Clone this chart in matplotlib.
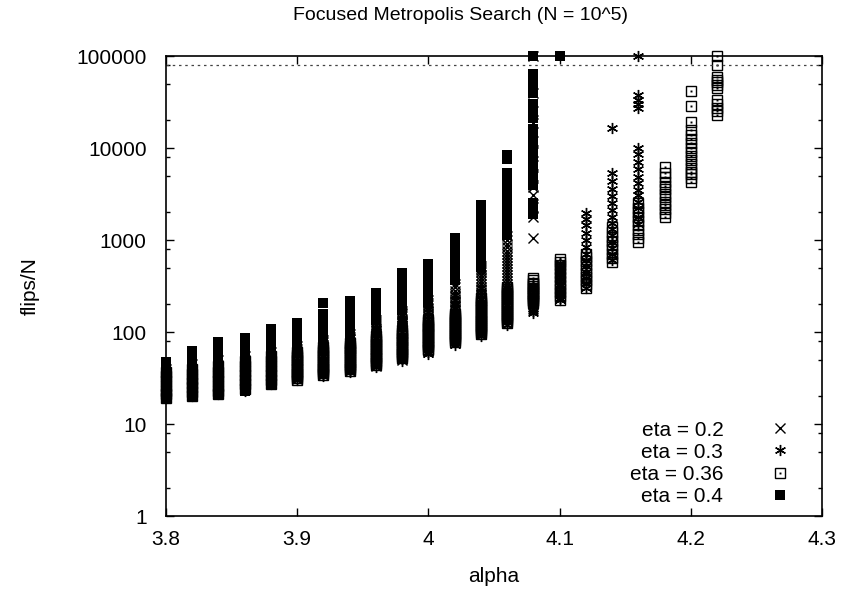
import matplotlib
matplotlib.use("Agg")
import matplotlib.pyplot as plt
from matplotlib import font_manager
from matplotlib.ticker import FixedLocator, NullFormatter

# alpha values of the runs (one column of points per alpha)
alphas = [3.80, 3.82, 3.84, 3.86, 3.88, 3.90, 3.92, 3.94, 3.96, 3.98, 4.00,
          4.02, 4.04, 4.06, 4.08, 4.10, 4.12, 4.14, 4.16, 4.18, 4.20, 4.22]

# flips/N of the individual runs, one list per alpha
eta02 = [
    [20, 22, 25, 28, 31, 35, 40],
    [21, 24, 27, 30, 34, 39, 45],
    [22, 25, 28, 32, 36, 42, 50],
    [25, 28, 32, 36, 41, 47, 55],
    [28, 31, 35, 40, 46, 52, 60],
    [31, 33, 35, 38, 40, 43, 45, 48, 52, 56, 60, 65, 70],
    [34, 36, 38, 41, 43, 46, 49, 52, 56, 60, 64, 68, 73, 78, 82],
    [38, 40, 43, 46, 49, 52, 56, 60, 64, 68, 73, 78, 83, 89, 95],
    [43, 46, 49, 52, 56, 60, 64, 68, 73, 78, 84, 90, 96, 103, 110, 116, 122, 128, 135],
    [50, 53, 57, 61, 65, 69, 74, 79, 85, 91, 97, 103, 110, 117, 125, 132, 140, 148, 155, 162, 170],
    [60, 64, 68, 73, 78, 83, 89, 94, 100, 107, 115, 122, 130, 140, 150, 160, 170, 182, 195, 207, 220],
    [75, 80, 85, 91, 97, 103, 110, 117, 125, 135, 145, 155, 165, 177, 190, 202, 215, 230,
     245, 262, 280, 305, 330],
    [100, 107, 115, 122, 130, 140, 150, 162, 175, 187, 200, 217, 235, 252, 270, 290, 310,
     335, 360, 390, 420, 445, 470, 495, 520],
    [150, 162, 175, 187, 200, 217, 235, 252, 270, 290, 310, 335, 360, 390, 420, 450, 480,
     520, 560, 605, 650, 700, 760, 830, 900, 1000, 1100],
    [1060, 1770, 2300, 3060, 3770, 5000, 6600, 9000, 12000, 18700, 25000, 40000, 100000],
    [], [], [], [], [], [], [],
]

eta03 = [
    [19, 21, 24, 27, 30, 34, 38],
    [20, 22, 25, 28, 32, 37, 42],
    [21, 24, 27, 31, 35, 40, 46],
    [23, 26, 30, 34, 39, 45, 52],
    [27, 30, 34, 39, 44, 50, 58],
    [30, 32, 34, 36, 38, 40, 43, 46, 49, 52, 56, 60, 66],
    [33, 35, 37, 39, 42, 45, 48, 51, 55, 59, 63, 68, 75],
    [37, 39, 42, 44, 47, 50, 54, 58, 62, 66, 72, 79, 88],
    [42, 44, 47, 50, 53, 56, 60, 64, 69, 74, 80, 87, 95, 102, 110],
    [48, 51, 54, 57, 61, 65, 70, 75, 80, 86, 92, 99, 107, 115, 123, 131, 140],
    [58, 61, 65, 69, 74, 79, 84, 90, 96, 103, 110, 118, 126, 138, 150, 165, 180],
    [72, 77, 82, 87, 93, 99, 106, 113, 121, 130, 140, 152, 165, 182, 200, 225, 250],
    [90, 96, 102, 109, 116, 124, 132, 141, 150, 162, 175, 190, 205, 227, 250, 275, 300],
    [120, 127, 135, 142, 150, 160, 170, 182, 195, 210, 225, 237, 250, 265, 280],
    [160, 170, 180, 192, 205, 217, 230, 245, 260, 275, 290, 305, 320],
    [225, 237, 250, 265, 280, 297, 315, 335, 355, 377, 400, 425, 450, 475, 500, 530, 560],
    [300, 340, 390, 450, 520, 600, 700, 840, 1000, 1200, 1450, 1700, 1960],
    [600, 700, 820, 960, 1130, 1330, 1530, 1800, 2100, 2500, 3000, 3600, 4400, 5350, 16500],
    [1500, 1800, 2200, 2600, 3080, 3500, 4200, 4840, 5900, 7000, 8500, 10000,
     27000, 30000, 33000, 37700, 100000],
    [], [], [],
]

eta036 = [
    [19, 21, 23, 26, 29, 33, 37],
    [20, 22, 25, 28, 31, 35, 40],
    [21, 23, 26, 29, 33, 37, 43],
    [24, 27, 30, 34, 38, 43, 49],
    [27, 30, 34, 38, 43, 48, 55],
    [30, 32, 33, 35, 37, 40, 42, 44, 47, 50, 53, 56, 60],
    [34, 36, 38, 40, 42, 44, 47, 50, 53, 56, 60, 64, 68],
    [38, 40, 42, 44, 47, 50, 53, 56, 60, 63, 67, 71, 76],
    [44, 46, 49, 52, 55, 58, 62, 66, 70, 74, 79, 84, 90],
    [52, 55, 58, 61, 65, 69, 73, 77, 82, 87, 92, 98, 104],
    [63, 66, 70, 74, 78, 82, 87, 92, 97, 102, 108, 114, 120, 127, 135],
    [78, 82, 86, 90, 95, 100, 105, 110, 116, 122, 128, 135, 142, 150, 158],
    [95, 100, 105, 110, 116, 122, 128, 135, 142, 150, 158, 167, 176, 186, 196, 207, 218, 234],
    [125, 131, 138, 145, 152, 160, 168, 177, 186, 196, 206, 217, 228, 240, 252, 266, 280,
     294, 308],
    [207, 216, 225, 235, 245, 256, 267, 278, 290, 303, 316, 330, 345, 365, 386],
    [223, 245, 270, 297, 327, 360, 397, 437, 481, 530, 580, 621],
    [300, 330, 365, 400, 440, 485, 535, 590, 650, 700],
    [577, 640, 710, 790, 880, 980, 1090, 1210, 1390],
    [950, 1050, 1170, 1300, 1450, 1620, 1800, 2000, 2250, 2530],
    [1770, 1950, 2150, 2380, 2620, 2900, 3200, 3550, 3900, 4300, 4800, 5400, 6200],
    [4270, 4700, 5200, 5520, 6060, 6700, 7400, 8200, 9100, 10100, 11200,
     12500, 14000, 15700, 19300, 28600, 42000],
    [23000, 25000, 27000, 30000, 33000, 45000, 48000, 52000, 55000, 59000, 80000, 100000],
]

eta04 = [
    [19, 20, 22, 24, 26, 28, 31, 34, 38, 42, 47],
    [20, 21, 23, 25, 27, 30, 33, 37, 41, 46, 51, 56, 62],
    [21, 22, 24, 26, 29, 32, 36, 40, 45, 50, 56, 63, 70, 78],
    [23, 24, 26, 29, 32, 35, 39, 44, 49, 55, 61, 68, 76, 86],
    [27, 28, 30, 33, 37, 41, 46, 51, 57, 64, 72, 81, 91, 100, 108],
    [69, 77, 86, 96, 107, 117, 125],
    [86, 96, 107, 119, 132, 145, 157, 207],
    [40, 45, 50, 56, 63, 70, 78, 87, 97, 108, 120, 134, 150, 167, 186, 217],
    [134, 148, 163, 180, 200, 220, 243, 265],
    [173, 192, 213, 236, 262, 290, 322, 357, 395, 438],
    [212, 235, 260, 288, 320, 355, 395, 440, 490, 548],
    [366, 405, 450, 500, 555, 615, 685, 760, 845, 940, 1050],
    [509, 565, 630, 700, 780, 870, 970, 1080, 1200, 1340, 1500, 1670, 1860, 2070, 2400],
    [1130, 1260, 1400, 1560, 1740, 1940, 2160, 2410, 2690, 3000, 3350, 3740,
     4170, 4650, 5350, 7500, 8300],
    [1900, 2100, 2500, 4000, 4600, 5300, 6000, 7500, 8400, 9500, 10800, 12300,
     14000, 16000, 21000, 24000, 27000, 30000, 40000, 48000, 57000, 63000, 100000],
    [100000],
    [], [], [], [], [], [],
]

cutoff = 80000

xticks = [3.8, 3.9, 4.0, 4.1, 4.2, 4.3]
xtick_labels = ["3.8", "3.9", "4", "4.1", "4.2", "4.3"]
yticks = [1, 10, 100, 1000, 10000, 100000]
ytick_labels = ["1", "10", "100", "1000", "10000", "100000"]

installed = {f.name for f in font_manager.fontManager.ttflist}
base_font = "Liberation Sans"
title_font = "Liberation Sans Narrow" if "Liberation Sans Narrow" in installed else base_font
plt.rcParams["font.family"] = base_font
plt.rcParams["font.size"] = 15


def flatten(runs):
    xs = [a for a, r in zip(alphas, runs) for _ in r]
    ys = [v for r in runs for v in r]
    return xs, ys


fig = plt.figure(figsize=(8.45, 5.9), dpi=100)
ax = fig.add_axes([166 / 845, 74 / 590, 656 / 845, 460 / 590])

ms = 7
x, y = flatten(eta02)
h02, = ax.plot(x, y, "x", color="black", ms=ms, mew=1.0, ls="none", clip_on=False)
x, y = flatten(eta03)
h03, = ax.plot(x, y, marker=(6, 2, 0), color="black", ms=ms + 1, mew=1.0, ls="none", clip_on=False)
x, y = flatten(eta036)
h036a, = ax.plot(x, y, "s", mfc="none", mec="black", ms=ms - 0.5, mew=1.0, ls="none", clip_on=False)
h036b, = ax.plot(x, y, "s", color="black", ms=1.4, mew=0, ls="none", clip_on=False)
x, y = flatten(eta04)
h04, = ax.plot(x, y, "s", color="black", ms=ms - 0.5, mew=0, ls="none", clip_on=False)

ax.axhline(cutoff, color="#444444", lw=0.9, ls=(0, (2, 3)))

ax.set_yscale("log")
ax.set_xlim(3.8, 4.3)
ax.set_ylim(1, 100000)
ax.xaxis.set_major_locator(FixedLocator(xticks))
ax.set_xticklabels(xtick_labels)
ax.yaxis.set_major_locator(FixedLocator(yticks))
ax.set_yticklabels(ytick_labels)
minor = [m * 10 ** k for k in range(0, 5) for m in (2, 5, 8)]
ax.yaxis.set_minor_locator(FixedLocator(minor))
ax.yaxis.set_minor_formatter(NullFormatter())

ax.tick_params(which="both", direction="in", top=True, right=True, width=1)
ax.tick_params(which="major", length=6)
ax.tick_params(axis="y", which="major", pad=14)
ax.tick_params(axis="x", which="major", pad=10)
ax.tick_params(which="minor", length=3)
for s in ax.spines.values():
    s.set_linewidth(1.2)

fig.text(461 / 845, 1 - 16 / 590, "Focused Metropolis Search (N = 10^5)",
         ha="center", va="center", family=title_font, fontsize=14)
fig.text(494 / 845, 1 - 576 / 590, "alpha", ha="center", va="center")
fig.text(30 / 845, 1 - 286 / 590, "flips/N", ha="center", va="center", rotation=90)

leg = ax.legend([h02, h03, (h036a, h036b), h04],
                ["eta = 0.2", "eta = 0.3", "eta = 0.36", "eta = 0.4"],
                markerfirst=False, frameon=False, loc="lower right",
                bbox_to_anchor=(790 / 845, 84 / 590), bbox_transform=fig.transFigure,
                labelspacing=0.15, handlelength=1.0, handletextpad=2.2,
                borderpad=0, borderaxespad=0)

fig.savefig("out.png", dpi=100)
